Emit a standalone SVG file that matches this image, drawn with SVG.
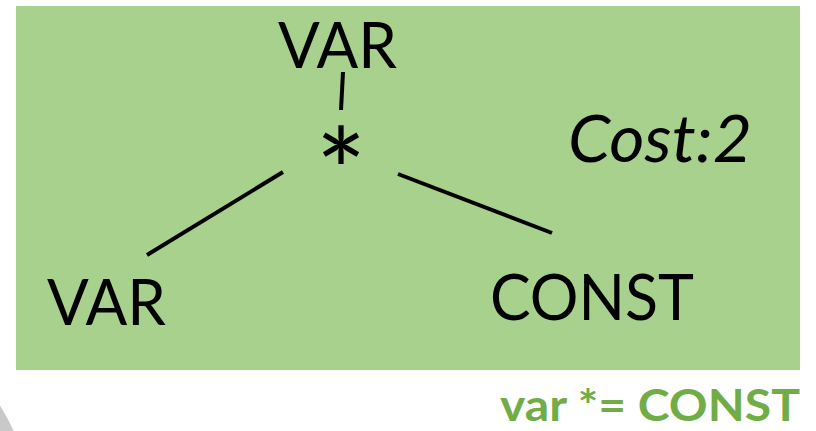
<svg xmlns="http://www.w3.org/2000/svg" width="816" height="431" viewBox="0 0 816 431">
<style>
.t{font-family:Lato,"Open Sans","Liberation Sans",sans-serif;fill:#000;font-size:64px}
.c{stroke:#000;stroke-width:4;fill:none}
</style>
<rect x="0" y="0" width="816" height="431" fill="#fff"/>
<circle cx="-182" cy="520" r="215" fill="#c9c9c9"/>
<rect id="panel" x="16" y="6" width="784" height="364" fill="#A9D18E"/>
<g id="connectors">
<line class="c" x1="343" y1="72" x2="341" y2="110"/>
<line class="c" x1="283" y1="172" x2="147" y2="255"/>
<line class="c" x1="398" y1="174" x2="552" y2="233"/>
</g>
<g id="node-var-top"><text class="t" x="278" y="68" textLength="119" lengthAdjust="spacingAndGlyphs">VAR</text></g>
<g id="node-mul"><text class="t" x="341" y="216" text-anchor="middle" style="font-size:120px">*</text></g>
<g id="node-var-left"><text class="t" x="47" y="325" textLength="119" lengthAdjust="spacingAndGlyphs">VAR</text></g>
<g id="node-const"><text class="t" x="490" y="320" textLength="204" lengthAdjust="spacingAndGlyphs">CONST</text></g>
<g id="cost"><text class="t" x="568" y="162" style="font-size:66px;font-style:italic" textLength="184" lengthAdjust="spacingAndGlyphs">Cost:2</text></g>
<g id="caption"><text x="500" y="421" font-family="Lato,'Open Sans','Liberation Sans',sans-serif" font-weight="bold" font-size="44" fill="#70AD47" textLength="300" lengthAdjust="spacingAndGlyphs">var *= CONST</text></g>
</svg>
